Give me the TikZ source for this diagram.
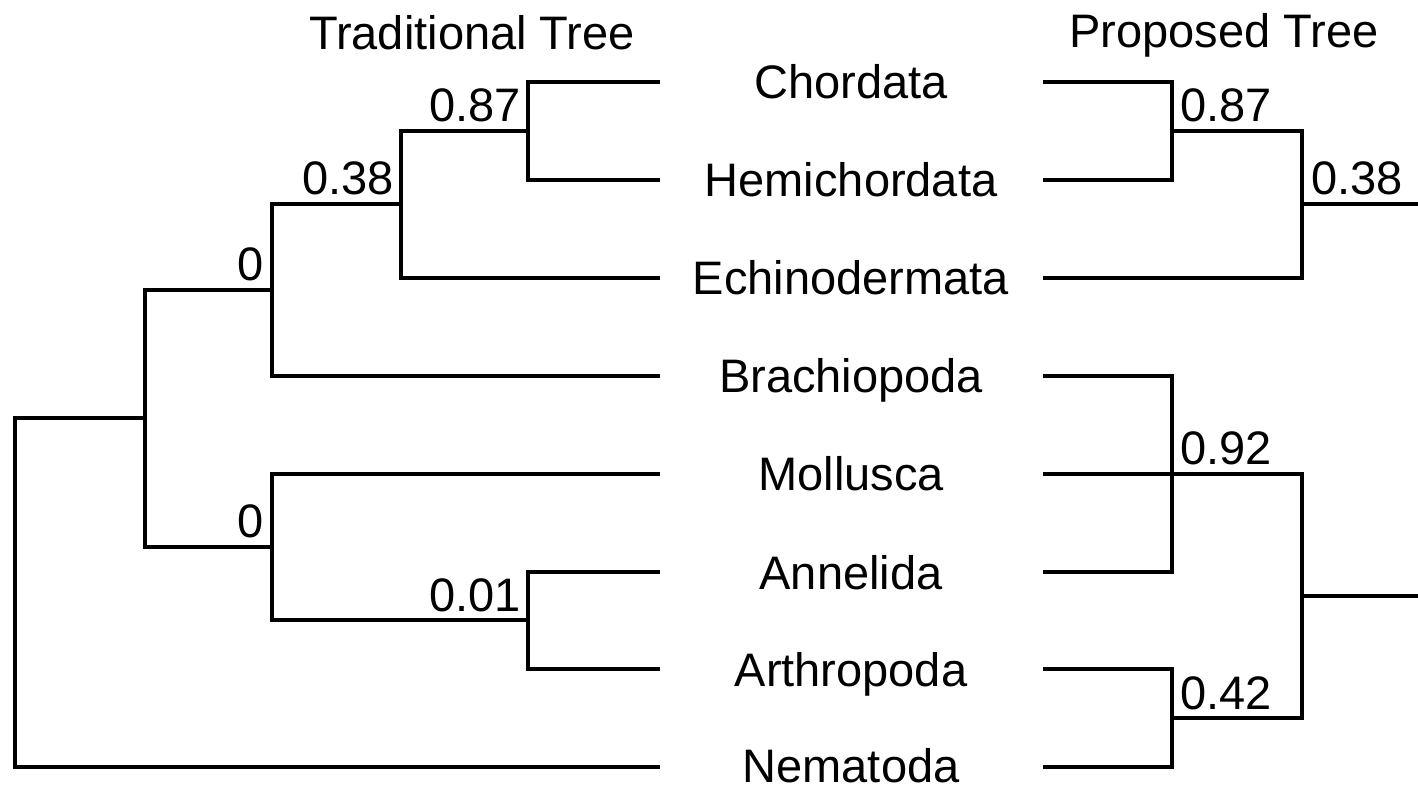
\documentclass[tikz,border=0pt]{standalone}
\usepackage{fontspec}
\setmainfont{Liberation Sans}
\usetikzlibrary{positioning, calc}

\begin{document}
\begin{tikzpicture}[x=0.5pt, y=-0.5pt,
    branch/.style={line width=2pt, line join=miter},
    txt/.style={font=\fontsize{23.5}{28}\selectfont, inner sep=0pt},
    taxon/.style={txt, anchor=base},
    suppL/.style={txt, anchor=base east},
    suppR/.style={txt, anchor=base west}]
  \useasboundingbox (0,0) rectangle (1418,790);

  % titles
  \node[taxon] (trad) at (472,50) {Traditional Tree};
  \node[taxon] (prop) at (1224,48) {Proposed Tree};

  % taxa in the middle
  \node[taxon] (chor) at (851,99)  {Chordata};
  \node[taxon] (hemi) at (851,197) {Hemichordata};
  \node[taxon] (echi) at (851,295) {Echinodermata};
  \node[taxon] (brac) at (851,393) {Brachiopoda};
  \node[taxon] (moll) at (851,491) {Mollusca};
  \node[taxon] (anne) at (851,589) {Annelida};
  \node[taxon] (arth) at (851,686) {Arthropoda};
  \node[taxon] (nema) at (851,782) {Nematoda};

  % leaf ends, left and right
  \coordinate (lC) at (660,82);   \coordinate (rC) at (1043,82);
  \coordinate (lH) at (660,180);  \coordinate (rH) at (1043,180);
  \coordinate (lE) at (660,278);  \coordinate (rE) at (1043,278);
  \coordinate (lB) at (660,376);  \coordinate (rB) at (1043,376);
  \coordinate (lM) at (660,474);  \coordinate (rM) at (1043,474);
  \coordinate (lA) at (660,572);  \coordinate (rA) at (1043,572);
  \coordinate (lR) at (660,669);  \coordinate (rR) at (1043,669);
  \coordinate (lN) at (660,767);  \coordinate (rN) at (1043,767);

  % traditional tree
  \coordinate (t87) at (528,131);
  \coordinate (t38) at (401,204);
  \coordinate (t0a) at (272,290);
  \coordinate (t01) at (528,620);
  \coordinate (t0b) at (272,547);
  \coordinate (tA)  at (145,418);
  \coordinate (troot) at (15,592);

  \draw[branch] (lC) -| (t87) |- (lH);
  \draw[branch] (t87) -| (t38) |- (lE);
  \draw[branch] (t38) -| (t0a) |- (lB);
  \draw[branch] (lA) -| (t01) |- (lR);
  \draw[branch] (lM) -| (t0b) |- (t01);
  \draw[branch] (t0a) -| (tA) |- (t0b);
  \draw[branch] (tA) -| (troot) |- (lN);

  \node[suppL] (s87) at ($(t87)+(-7,-9)$) {0.87};
  \node[suppL] (s38) at ($(t38)+(-7,-9)$) {0.38};
  \node[suppL] (s0a) at ($(t0a)+(-8,-9)$) {0};
  \node[suppL] (s0b) at ($(t0b)+(-8,-9)$) {0};
  \node[suppL] (s01) at ($(t01)+(-7,-9)$) {0.01};

  % proposed tree
  \coordinate (p87) at (1172,131);
  \coordinate (p38) at (1302,204);
  \coordinate (p92) at (1172,474);
  \coordinate (p42) at (1172,718);
  \coordinate (pB)  at (1302,596);
  \coordinate (e38) at (1418,204);
  \coordinate (eB)  at (1418,596);

  \draw[branch] (rC) -| (p87) |- (rH);
  \draw[branch] (p87) -| (p38) |- (rE);
  \draw[branch] (p38) -- (e38);
  \draw[branch] (rB) -| (p92) |- (rA);
  \draw[branch] (rM) -- (p92);
  \draw[branch] (rR) -| (p42) |- (rN);
  \draw[branch] (p92) -| (pB) |- (p42);
  \draw[branch] (pB) -- (eB);

  \node[suppR] (q87) at ($(p87)+(8,-9)$) {0.87};
  \node[suppR] (q38) at ($(p38)+(9,-9)$) {0.38};
  \node[suppR] (q92) at ($(p92)+(8,-9)$) {0.92};
  \node[suppR] (q42) at ($(p42)+(8,-9)$) {0.42};
\end{tikzpicture}
\end{document}
